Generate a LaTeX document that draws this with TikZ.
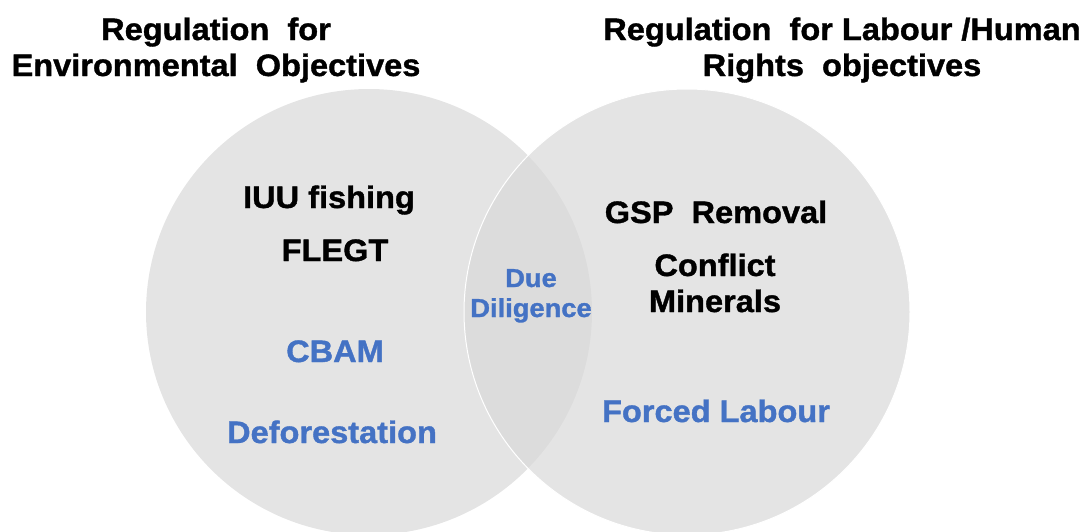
\documentclass[tikz,border=0pt]{standalone}
\usepackage{fontspec}
\setmainfont{Liberation Sans}[FakeStretch=1.05,BoldFeatures={FakeBold=1.2}]

\definecolor{venngray}{HTML}{D9D9D9}
\definecolor{itemblue}{HTML}{4472C4}

\begin{document}
\begin{tikzpicture}[x=1pt,y=-1pt,
  lbl/.style={anchor=base,align=center,inner sep=0pt,font=\bfseries\fontsize{31}{36}\selectfont},
  blueitem/.style={lbl,text=itemblue},
  small/.style={font=\bfseries\fontsize{26}{30}\selectfont}]
  \useasboundingbox (0,0) rectangle (1090,531);
  % the two sets, cut off at the bottom edge
  \begin{scope}
    \clip (0,0) rectangle (1090,531);
    \fill[venngray,fill opacity=0.7] (369,312) circle[radius=223];
    \draw[white,line width=1pt,fill=venngray,fill opacity=0.7] (687,312) circle[radius=223];
  \end{scope}
  % headings (base = last line)
  \node[lbl] (envtitle) at (216,76) {Regulation\ \ for\\Environmental\ \ Objectives};
  \node[lbl] (labtitle) at (842,76) {Regulation\ \ for Labour /Human\\Rights\ \ objectives};
  % environmental side
  \node[lbl] (iuu) at (329,208) {IUU fishing};
  \node[lbl] (flegt) at (335,261) {FLEGT};
  \node[blueitem] (cbam) at (335,362) {CBAM};
  \node[blueitem] (defor) at (332,443) {Deforestation};
  % labour / human rights side
  \node[lbl] (gsp) at (716,223) {GSP\ \ Removal};
  \node[lbl] (conflict) at (715,312) {Conflict\\Minerals};
  \node[blueitem] (forced) at (716,422) {Forced Labour};
  % overlap
  \node[blueitem,small] (dd) at (531,317) {Due\\Diligence};
\end{tikzpicture}
\end{document}
